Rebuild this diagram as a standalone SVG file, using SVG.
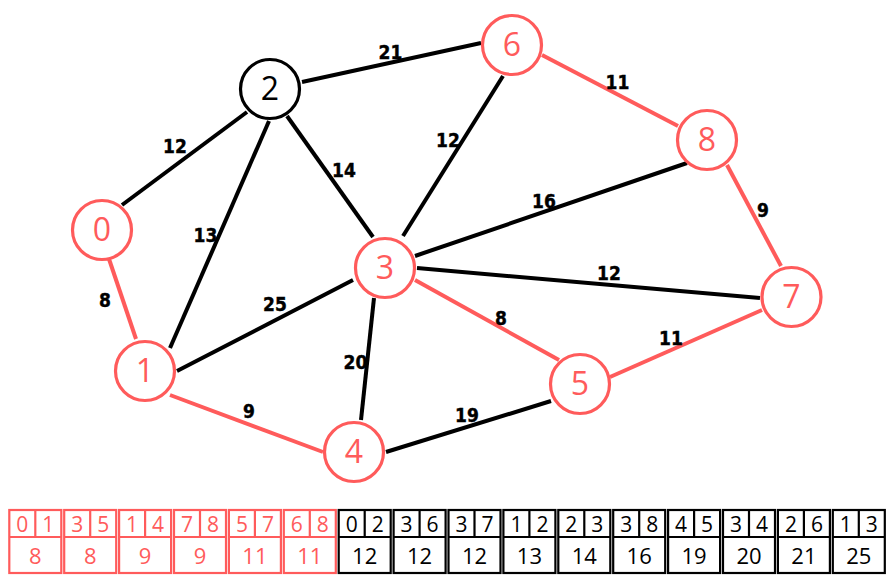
<svg xmlns="http://www.w3.org/2000/svg" width="895" height="587" viewBox="0 0 895 587">
<style>
.e{stroke:#000;stroke-width:4;}
.r{stroke:#FF5B5B;stroke-width:4;}
.n{fill:#fff;stroke-width:3.2;}
.nr{stroke:#FF5B5B;}
.nb{stroke:#000;}
.nt{font-family:"Open Sans",sans-serif;font-size:32px;text-anchor:middle;}
.el{font-family:"Liberation Sans Narrow","DejaVu Sans Condensed",sans-serif;font-weight:bold;font-size:19px;text-anchor:middle;fill:#000;stroke:#000;stroke-width:0.4;}
.bx{fill:none;stroke-width:2.2;}
.tt{font-family:"Open Sans",sans-serif;font-size:21px;text-anchor:middle;}
.tb{font-size:22px;}
</style>
<g id="connectors">
<line class="r" x1="109" y1="259" x2="136" y2="339"/>
<line class="e" x1="122" y1="205" x2="247" y2="112"/>
<line class="e" x1="170" y1="348" x2="269" y2="121"/>
<line class="e" x1="287" y1="116" x2="373" y2="237"/>
<line class="e" x1="302" y1="82" x2="481" y2="43"/>
<line class="e" x1="403" y1="236" x2="503" y2="76"/>
<line class="e" x1="415" y1="256" x2="687" y2="163"/>
<line class="e" x1="417" y1="268" x2="760" y2="298"/>
<line class="r" x1="415" y1="280" x2="559" y2="360"/>
<line class="e" x1="177" y1="371" x2="353" y2="280"/>
<line class="r" x1="170" y1="395" x2="323" y2="452"/>
<line class="e" x1="374" y1="298" x2="361" y2="420"/>
<line class="e" x1="386" y1="452" x2="551" y2="401"/>
<line class="r" x1="610" y1="377" x2="762" y2="310"/>
<line class="r" x1="542" y1="55" x2="678" y2="126"/>
<line class="r" x1="727" y1="165" x2="781" y2="266"/>
<text class="el" x="390.5" y="58.5">21</text>
<text class="el" x="175" y="153">12</text>
<text class="el" x="344" y="177">14</text>
<text class="el" x="448" y="147">12</text>
<text class="el" x="617.5" y="89">11</text>
<text class="el" x="205.5" y="241.5">13</text>
<text class="el" x="544" y="208">16</text>
<text class="el" x="763" y="217">9</text>
<text class="el" x="105" y="307">8</text>
<text class="el" x="275" y="311">25</text>
<text class="el" x="609" y="280">12</text>
<text class="el" x="501" y="325">8</text>
<text class="el" x="671" y="344.5">11</text>
<text class="el" x="355.5" y="369">20</text>
<text class="el" x="249" y="418">9</text>
<text class="el" x="467" y="422">19</text>
</g>
<g id="node0"><circle class="n nr" cx="102" cy="230" r="29.5"/><text class="nt" x="102" y="241.4" fill="#FF5B5B">0</text></g>
<g id="node1"><circle class="n nr" cx="145" cy="371" r="29.5"/><text class="nt" x="145" y="382.4" fill="#FF5B5B">1</text></g>
<g id="node2"><circle class="n nb" cx="270" cy="89" r="29.5"/><text class="nt" x="270" y="100.4" fill="#000">2</text></g>
<g id="node3"><circle class="n nr" cx="385" cy="268" r="29.5"/><text class="nt" x="385" y="279.4" fill="#FF5B5B">3</text></g>
<g id="node4"><circle class="n nr" cx="354" cy="452" r="29.5"/><text class="nt" x="354" y="463.4" fill="#FF5B5B">4</text></g>
<g id="node5"><circle class="n nr" cx="580" cy="384" r="29.5"/><text class="nt" x="580" y="395.4" fill="#FF5B5B">5</text></g>
<g id="node6"><circle class="n nr" cx="512" cy="45" r="29.5"/><text class="nt" x="512" y="56.4" fill="#FF5B5B">6</text></g>
<g id="node7"><circle class="n nr" cx="791.5" cy="297" r="29.5"/><text class="nt" x="791.5" y="308.4" fill="#FF5B5B">7</text></g>
<g id="node8"><circle class="n nr" cx="707" cy="140" r="29.5"/><text class="nt" x="707" y="151.4" fill="#FF5B5B">8</text></g>
<g id="table">
<defs>
<g id="cell">
<rect x="0" y="0" width="52" height="63"/>
<line x1="0" y1="27" x2="52" y2="27"/>
<line x1="26" y1="0" x2="26" y2="27"/>
</g>
</defs>
<g stroke="#FF5B5B" class="bx" fill="none">
<use href="#cell" x="9.3" y="510"/>
<use href="#cell" x="64.2" y="510"/>
<use href="#cell" x="119.1" y="510"/>
<use href="#cell" x="174" y="510"/>
<use href="#cell" x="228.9" y="510"/>
<use href="#cell" x="283.8" y="510"/>
</g>
<g stroke="#000" class="bx" fill="none">
<use href="#cell" x="338.7" y="510"/>
<use href="#cell" x="393.6" y="510"/>
<use href="#cell" x="448.5" y="510"/>
<use href="#cell" x="503.4" y="510"/>
<use href="#cell" x="558.3" y="510"/>
<use href="#cell" x="613.2" y="510"/>
<use href="#cell" x="668.1" y="510"/>
<use href="#cell" x="723" y="510"/>
<use href="#cell" x="777.9" y="510"/>
<use href="#cell" x="832.8" y="510"/>
</g>
<g class="tt" fill="#FF5B5B">
<text x="22.3" y="532">0</text><text x="48.3" y="532">1</text><text class="tb" x="35.3" y="564">8</text>
<text x="77.2" y="532">3</text><text x="103.2" y="532">5</text><text class="tb" x="90.2" y="564">8</text>
<text x="132.1" y="532">1</text><text x="158.1" y="532">4</text><text class="tb" x="145.1" y="564">9</text>
<text x="187" y="532">7</text><text x="213" y="532">8</text><text class="tb" x="200" y="564">9</text>
<text x="241.9" y="532">5</text><text x="267.9" y="532">7</text><text class="tb" x="254.9" y="564">11</text>
<text x="296.8" y="532">6</text><text x="322.8" y="532">8</text><text class="tb" x="309.8" y="564">11</text>
</g>
<g class="tt" fill="#000">
<text x="351.7" y="532">0</text><text x="377.7" y="532">2</text><text class="tb" x="364.7" y="564">12</text>
<text x="406.6" y="532">3</text><text x="432.6" y="532">6</text><text class="tb" x="419.6" y="564">12</text>
<text x="461.5" y="532">3</text><text x="487.5" y="532">7</text><text class="tb" x="474.5" y="564">12</text>
<text x="516.4" y="532">1</text><text x="542.4" y="532">2</text><text class="tb" x="529.4" y="564">13</text>
<text x="571.3" y="532">2</text><text x="597.3" y="532">3</text><text class="tb" x="584.3" y="564">14</text>
<text x="626.2" y="532">3</text><text x="652.2" y="532">8</text><text class="tb" x="639.2" y="564">16</text>
<text x="681.1" y="532">4</text><text x="707.1" y="532">5</text><text class="tb" x="694.1" y="564">19</text>
<text x="736" y="532">3</text><text x="762" y="532">4</text><text class="tb" x="749" y="564">20</text>
<text x="790.9" y="532">2</text><text x="816.9" y="532">6</text><text class="tb" x="803.9" y="564">21</text>
<text x="845.8" y="532">1</text><text x="871.8" y="532">3</text><text class="tb" x="858.8" y="564">25</text>
</g>
</g>
</svg>
